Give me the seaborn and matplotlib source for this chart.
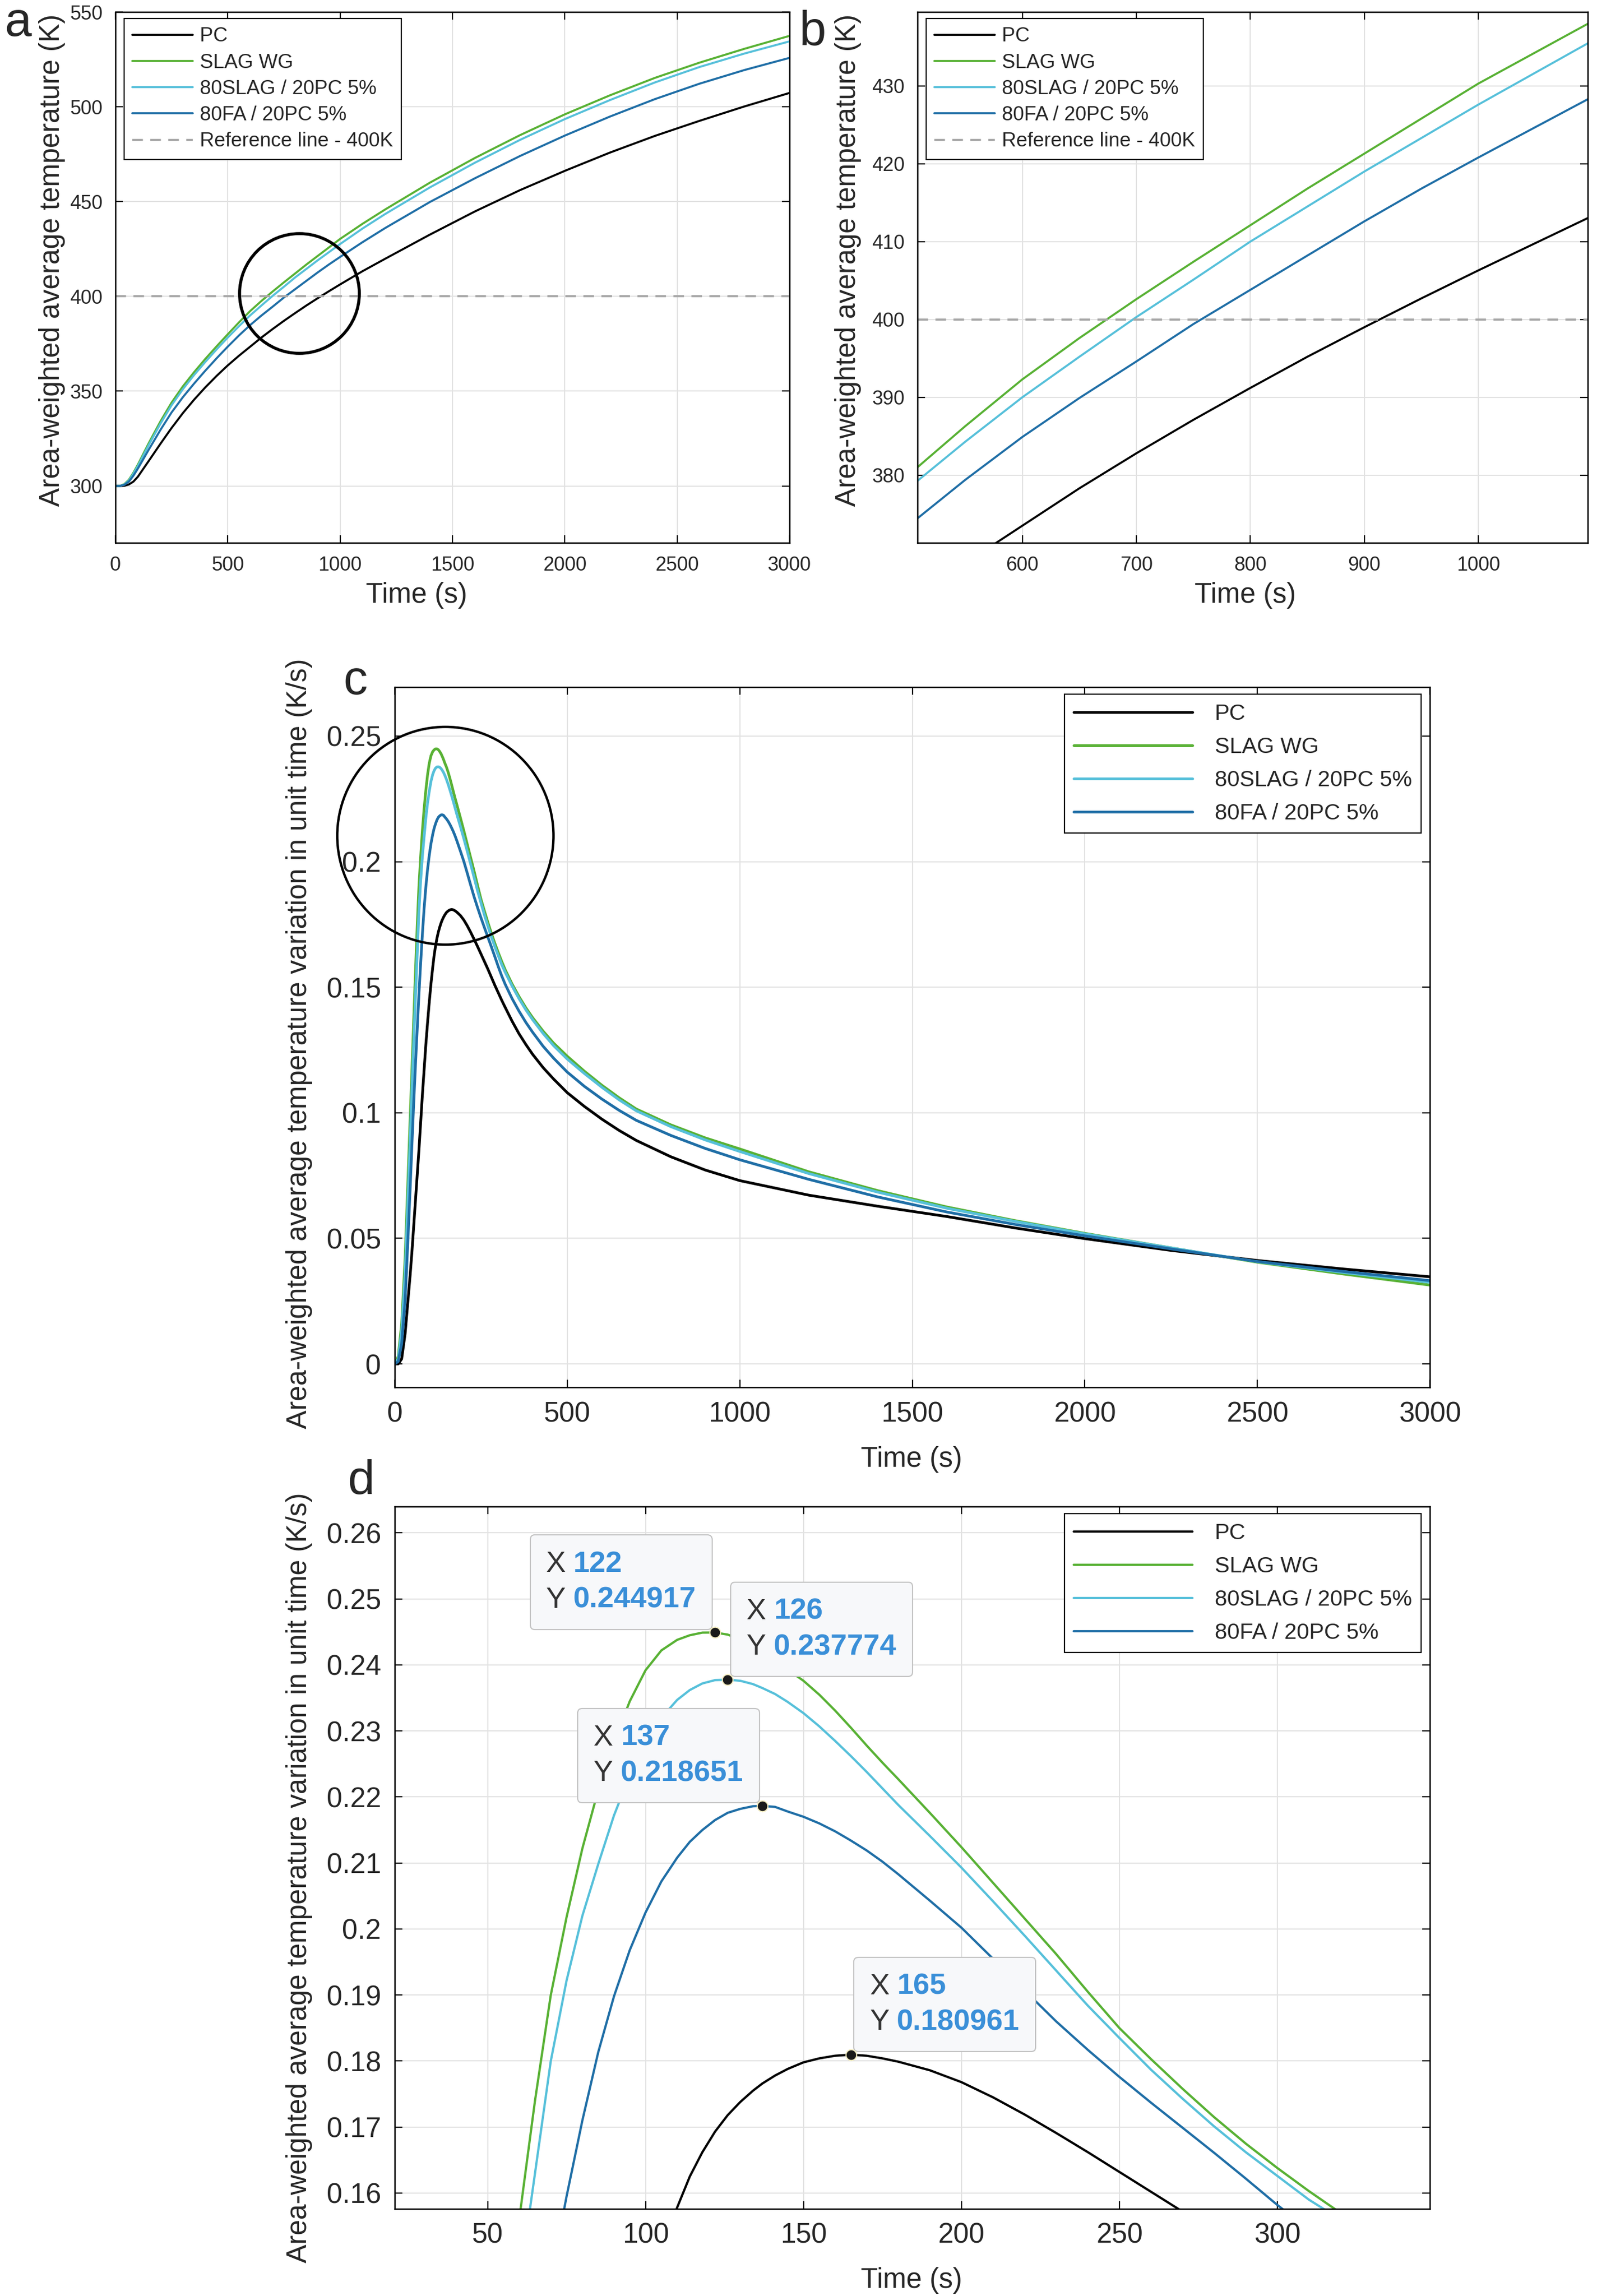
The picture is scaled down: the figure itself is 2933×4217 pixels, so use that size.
import numpy as np
import pandas as pd
import seaborn as sns
import matplotlib.pyplot as plt
from matplotlib.patches import Ellipse
from matplotlib.offsetbox import AnnotationBbox, HPacker, VPacker, TextArea

# ---- data ----
series_names = ["PC", "SLAG WG", "80SLAG / 20PC 5%", "80FA / 20PC 5%"]
series_colors = ["#000000", "#58b134", "#56c0da", "#1f6ea6"]

time_temp = [0, 20, 40, 60, 80, 100, 150, 200, 250, 300, 350, 400, 450, 500, 550, 600,
             650, 700, 750, 800, 850, 900, 950, 1000, 1050, 1100, 1200, 1400, 1600, 1800,
             2000, 2200, 2400, 2600, 2800, 3000]
temp_pc = [300.0, 300.0, 300.1, 300.8, 302.3, 304.9, 313.5, 322.2, 330.6, 338.4, 345.5, 352.0,
           358.0, 363.6, 368.7, 373.5, 378.3, 382.8, 387.1, 391.2, 395.2, 399.0, 402.7, 406.3,
           409.8, 413.3, 419.8, 432.6, 444.8, 456.0, 466.2, 475.8, 484.6, 492.6, 500.2, 507.3]
temp_slag = [300.0, 300.0, 301.0, 303.3, 307.0, 311.3, 323.0, 334.0, 344.0, 352.5, 360.0, 367.0,
             373.6, 380.0, 386.3, 392.3, 397.6, 402.6, 407.4, 412.1, 416.8, 421.3, 425.8, 430.3,
             434.3, 438.3, 445.8, 460.0, 473.0, 485.0, 496.0, 506.0, 515.2, 523.3, 530.6, 537.4]
temp_80slag = [300.0, 300.0, 300.8, 302.9, 306.5, 310.6, 322.0, 332.8, 342.6, 351.0, 358.5, 365.4,
               372.0, 378.3, 384.3, 390.0, 395.2, 400.3, 405.1, 410.0, 414.5, 419.0, 423.3, 427.6,
               431.7, 435.8, 443.4, 457.5, 470.5, 482.5, 493.5, 503.5, 512.8, 521.0, 528.1, 534.5]
temp_80fa = [300.0, 300.0, 300.6, 302.3, 305.4, 309.2, 319.5, 329.5, 338.8, 346.8, 354.0, 360.8,
             367.3, 373.5, 379.4, 384.9, 389.9, 394.6, 399.4, 403.8, 408.2, 412.6, 416.8, 420.8,
             424.7, 428.6, 436.0, 449.8, 462.3, 474.0, 484.8, 494.8, 504.0, 512.2, 519.4, 525.8]
ref_temp = 400
ref_label = "Reference line - 400K"

time_rate = [0, 10, 20, 30, 40, 45, 50, 55, 60, 65,
             70, 75, 80, 85, 90, 95, 100, 105, 110, 114,
             118, 122, 126, 130, 134, 137, 141, 145, 150, 155,
             160, 165, 170, 175, 180, 190, 200, 210, 220, 230,
             240, 250, 260, 270, 280, 290, 300, 310, 320, 340,
             360, 380, 400, 430, 460, 500, 550, 600, 650, 700,
             800, 900, 1000, 1200, 1400, 1600, 1800, 2000, 2250, 2500,
             2750, 3000]
rate_pc = [0.0, 0.0, 0.002, 0.012, 0.028, 0.036, 0.045, 0.055, 0.065, 0.075,
           0.085, 0.096, 0.107, 0.117, 0.127, 0.1358, 0.1440, 0.1514, 0.1578, 0.1625,
           0.1662, 0.1693, 0.1718, 0.1738, 0.1755, 0.1766, 0.1778, 0.1788, 0.1798, 0.1804,
           0.1808, 0.180961, 0.1808, 0.1804, 0.1799, 0.1786, 0.1768, 0.1745, 0.1719, 0.1691,
           0.1662, 0.1632, 0.1602, 0.1572, 0.1540, 0.1508, 0.1478, 0.1448, 0.1420, 0.1365,
           0.1315, 0.1272, 0.1232, 0.1180, 0.1135, 0.1080, 0.1025, 0.0975, 0.0930, 0.0890,
           0.0825, 0.0772, 0.0730, 0.0672, 0.0628, 0.0587, 0.0541, 0.0499, 0.0452, 0.0412,
           0.0378, 0.0347]
rate_slag = [0.0, 0.003, 0.016, 0.042, 0.080, 0.099, 0.118, 0.137, 0.156, 0.174,
             0.190, 0.2018, 0.2122, 0.2210, 0.2283, 0.2345, 0.2392, 0.2422, 0.2438, 0.2445,
             0.2449, 0.244917, 0.2446, 0.2439, 0.2430, 0.2421, 0.2408, 0.2393, 0.2376, 0.2355,
             0.2331, 0.2305, 0.2278, 0.2252, 0.2227, 0.2176, 0.2124, 0.2070, 0.2016, 0.1962,
             0.1905, 0.1850, 0.1803, 0.1758, 0.1715, 0.1675, 0.1638, 0.1603, 0.1570, 0.1513,
             0.1463, 0.1418, 0.1378, 0.1325, 0.1278, 0.1225, 0.1165, 0.1110, 0.1060, 0.1015,
             0.0952, 0.0900, 0.0856, 0.0765, 0.0690, 0.0625, 0.0570, 0.0520, 0.0462, 0.0405,
             0.0358, 0.0314]
rate_80slag = [0.0, 0.002, 0.013, 0.036, 0.072, 0.091, 0.110, 0.128, 0.146, 0.163,
               0.180, 0.1922, 0.2020, 0.2098, 0.2172, 0.2233, 0.2280, 0.2320, 0.2347, 0.2362,
               0.2372, 0.2377, 0.237774, 0.2376, 0.2371, 0.2365, 0.2356, 0.2344, 0.2327, 0.2307,
               0.2285, 0.2262, 0.2238, 0.2213, 0.2188, 0.2141, 0.2093, 0.2042, 0.1990, 0.1937,
               0.1884, 0.1835, 0.1787, 0.1743, 0.1701, 0.1662, 0.1626, 0.1590, 0.1560, 0.1505,
               0.1455, 0.1410, 0.1370, 0.1316, 0.1268, 0.1214, 0.1156, 0.1102, 0.1052, 0.1008,
               0.0945, 0.0892, 0.0846, 0.0758, 0.0684, 0.0620, 0.0567, 0.0518, 0.0462, 0.0407,
               0.0364, 0.0325]
rate_80fa = [0.0, 0.001, 0.008, 0.025, 0.055, 0.071, 0.088, 0.104, 0.119, 0.133,
             0.147, 0.1595, 0.1710, 0.1813, 0.1898, 0.1968, 0.2025, 0.2072, 0.2108, 0.2132,
             0.2150, 0.2165, 0.2176, 0.2182, 0.2186, 0.218651, 0.2185, 0.2178, 0.2170, 0.2160,
             0.2148, 0.2134, 0.2119, 0.2102, 0.2083, 0.2043, 0.2002, 0.1955, 0.1907, 0.1860,
             0.1817, 0.1776, 0.1737, 0.1699, 0.1661, 0.1622, 0.1582, 0.1545, 0.1512, 0.1455,
             0.1405, 0.1360, 0.1320, 0.1265, 0.1218, 0.1162, 0.1105, 0.1055, 0.1010, 0.0970,
             0.0910, 0.0858, 0.0813, 0.0735, 0.0665, 0.0605, 0.0555, 0.0510, 0.0458, 0.0408,
             0.0368, 0.0332]

# data tips shown in panel d (peak of each curve)
peak_t = [122, 126, 137, 165]
peak_v = [0.244917, 0.237774, 0.218651, 0.180961]
tip_side = ["left", "right", "left", "right"]

# ticks
a_xticks = [0, 500, 1000, 1500, 2000, 2500, 3000]
a_yticks = [300, 350, 400, 450, 500, 550]
b_xticks = [600, 700, 800, 900, 1000]
b_yticks = [380, 390, 400, 410, 420, 430]
c_xticks = [0, 500, 1000, 1500, 2000, 2500, 3000]
c_yticks = [0, 0.05, 0.1, 0.15, 0.2, 0.25]
c_ylabels = ["0", "0.05", "0.1", "0.15", "0.2", "0.25"]
d_xticks = [50, 100, 150, 200, 250, 300]
d_yticks = [0.16, 0.17, 0.18, 0.19, 0.2, 0.21, 0.22, 0.23, 0.24, 0.25, 0.26]
d_ylabels = ["0.16", "0.17", "0.18", "0.19", "0.2", "0.21", "0.22", "0.23", "0.24", "0.25", "0.26"]

temps = [temp_pc, temp_slag, temp_80slag, temp_80fa]
rates = [rate_pc, rate_slag, rate_80slag, rate_80fa]

sns.set_style("whitegrid")
plt.rcParams['font.family'] = ['Liberation Sans', 'DejaVu Sans']

W, H = 2933, 4217
fig = plt.figure(figsize=(W / 100, H / 100), dpi=100)


def px_axes(left, right, top, bottom):
    return fig.add_axes([left / W, 1 - bottom / H, (right - left) / W, (bottom - top) / H])


ax_a = px_axes(212, 1450, 22, 997)
ax_b = px_axes(1685, 2916, 22, 997)
ax_c = px_axes(725, 2626, 1262, 2548)
ax_d = px_axes(725, 2626, 2767, 4057)


def style(ax, tick_fs, pad):
    ax.grid(True, color="#e2e2e2", lw=1.5)
    ax.set_axisbelow(True)
    for s in ax.spines.values():
        s.set_visible(True)
        s.set_color("black")
        s.set_linewidth(1.8)
    ax.tick_params(direction="in", length=10, width=1.6, top=True, right=True,
                   bottom=True, left=True, labelsize=tick_fs, pad=pad,
                   labelcolor="#262626", color="black")


# ---- panels a and b: temperature ----
for ax in (ax_a, ax_b):
    for name, col, vals in zip(series_names, series_colors, temps):
        sns.lineplot(x=time_temp, y=vals, color=col, lw=2.7, label=name,
                     errorbar=None, ax=ax)
    ax.axhline(ref_temp, color="#a8a8a8", lw=2.8, ls=(0, (5, 3.5)), label=ref_label)

ax_a.set_xlim(0, 3000)
ax_a.set_ylim(270, 550)
ax_a.set_xticks(a_xticks)
ax_a.set_yticks(a_yticks)
ax_b.set_xlim(508, 1096)
ax_b.set_ylim(371.3, 439.5)
ax_b.set_xticks(b_xticks)
ax_b.set_yticks(b_yticks)

for ax, anchor_x in ((ax_a, 16 / 1238), (ax_b, 16 / 1231)):
    style(ax, 26, 17)
    ax.legend(loc="upper left", bbox_to_anchor=(anchor_x, 1 - 12 / 975), borderaxespad=0,
              fontsize=26.5, frameon=True, fancybox=False, edgecolor="black", framealpha=1,
              handlelength=3.0, handletextpad=0.35, labelspacing=0.36, borderpad=0.42
              ).get_frame().set_linewidth(1.6)
    ax.set_xlabel("Time (s)", fontsize=37)
    ax.set_ylabel("Area-weighted average temperature (K)", fontsize=37)

ax_a.xaxis.set_label_coords(0.4467, -0.0735)
ax_a.yaxis.set_label_coords(-0.0743, 0.532)
ax_b.xaxis.set_label_coords(0.489, -0.0735)
ax_b.yaxis.set_label_coords(-0.0837, 0.532)

ax_a.add_patch(Ellipse((0.273, 0.4697), 0.1777, 0.2256, transform=ax_a.transAxes,
                       fill=False, ec="black", lw=4, zorder=6, clip_on=False))

# ---- panels c and d: rate ----
for ax, lw in ((ax_c, 3.6), (ax_d, 3.0)):
    for name, col, vals in zip(series_names, series_colors, rates):
        sns.lineplot(x=time_rate, y=vals, color=col, lw=lw, label=name,
                     errorbar=None, ax=ax)
    style(ax, 37, 18)
    ax.legend(loc="upper right", bbox_to_anchor=(1 - 16 / 1901, 1 - 13 / 1286), borderaxespad=0,
              fontsize=29.5, frameon=True, fancybox=False, edgecolor="black", framealpha=1,
              handlelength=5.3, handletextpad=1.0, labelspacing=0.56, borderpad=0.42
              ).get_frame().set_linewidth(1.6)
    ax.set_xlabel("Time (s)", fontsize=37)
    ax.set_ylabel("Area-weighted average temperature variation in unit time (K/s)", fontsize=37)
    ax.yaxis.set_label_coords(-0.0794, 0.4907)

ax_c.set_xlim(0, 3000)
ax_c.set_ylim(-0.0093, 0.2695)
ax_c.set_xticks(c_xticks)
ax_c.set_yticks(c_yticks)
ax_c.set_yticklabels(c_ylabels)
ax_c.xaxis.set_label_coords(0.4992, -0.084)
ax_c.add_patch(Ellipse((0.0489, 0.7877), 0.2089, 0.311, transform=ax_c.transAxes,
                       fill=False, ec="black", lw=3.2, zorder=6, clip_on=False))

ax_d.set_xlim(20.6, 348.3)
ax_d.set_ylim(0.1576, 0.264)
ax_d.set_xticks(d_xticks)
ax_d.set_yticks(d_yticks)
ax_d.set_yticklabels(d_ylabels)
ax_d.xaxis.set_label_coords(0.4992, -0.083)
ax_d.yaxis.set_label_coords(-0.0794, 0.4713)

# data tips
for t, v, side in zip(peak_t, peak_v, tip_side):
    tf = dict(color="#333333", size=39)
    vf = dict(color="#3a8fd8", size=39, weight="bold")
    row_x = HPacker(children=[TextArea("X", textprops=tf), TextArea(f"{t:g}", textprops=vf)],
                    sep=10, align="baseline")
    row_y = HPacker(children=[TextArea("Y", textprops=tf), TextArea(f"{v:.6f}", textprops=vf)],
                    sep=10, align="baseline")
    box = VPacker(children=[row_x, row_y], sep=11, pad=21, align="left")
    if side == "left":
        align, off = (1, 0), (-4, 4)
    else:
        align, off = (0, 0), (4, 4)
    ab = AnnotationBbox(box, (t, v), xybox=off, xycoords="data", boxcoords="offset points",
                        box_alignment=align, pad=0, frameon=True, zorder=6,
                        bboxprops=dict(boxstyle="round,pad=0,rounding_size=0.6",
                                       fc="#f7f8fa", ec="#c2c2c2", lw=1.5))
    ax_d.add_artist(ab)

sns.scatterplot(x=peak_t, y=peak_v, color="#1a1a1a", s=200, edgecolor="#f3ecc0",
                linewidth=1.5, zorder=7, ax=ax_d, legend=False)

# panel letters
for letter, x, y in (("a", 8, 66), ("b", 1467, 82), ("c", 630, 1275), ("d", 638, 2744)):
    fig.text(x / W, 1 - y / H, letter, fontsize=64, ha="left", va="baseline")

fig.savefig("out.png", dpi=100)
